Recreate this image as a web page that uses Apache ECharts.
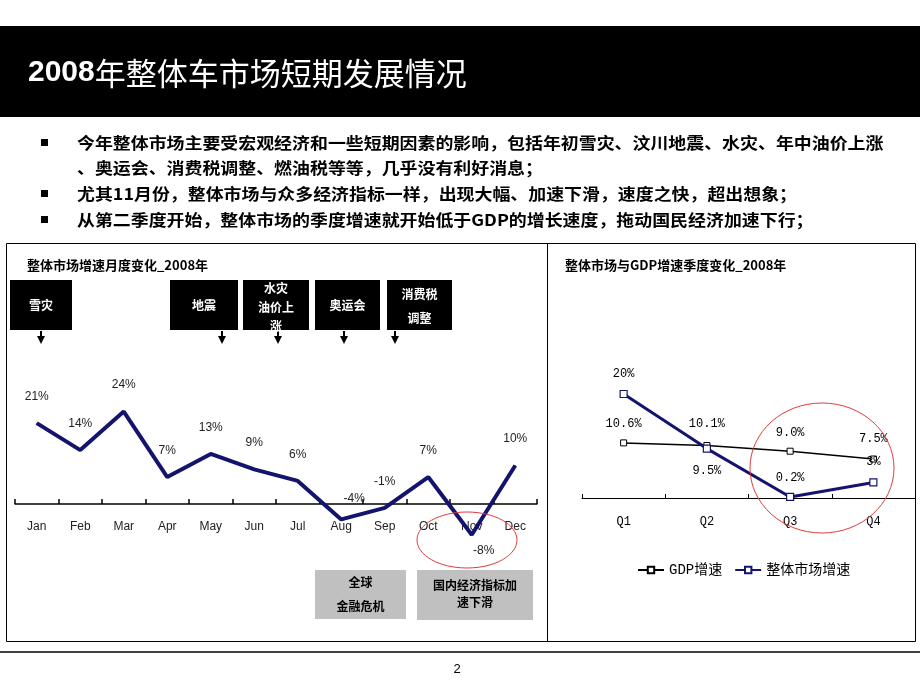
<!DOCTYPE html>
<html>
<head>
<meta charset="utf-8">
<script src="https://cdn.jsdelivr.net/npm/echarts@6/dist/echarts.min.js"></script>
<style>
html,body{margin:0;padding:0;background:#fff;}
#chart{width:920px;height:690px;}
</style>
</head>
<body>
<div id="chart"></div>
<script>
// ---- data ----
const pageTitle = '2008年整体车市场短期发展情况';
const bulletLines = [
  '今年整体市场主要受宏观经济和一些短期因素的影响，包括年初雪灾、汶川地震、水灾、年中油价上涨',
  '、奥运会、消费税调整、燃油税等等，几乎没有利好消息；',
  '尤其11月份，整体市场与众多经济指标一样，出现大幅、加速下滑，速度之快，超出想象；',
  '从第二季度开始，整体市场的季度增速就开始低于GDP的增长速度，拖动国民经济加速下行；'
];
const bulletMarks = [true, false, true, true];
const leftTitle = '整体市场增速月度变化_2008年';
const rightTitle = '整体市场与GDP增速季度变化_2008年';
const months = ['Jan','Feb','Mar','Apr','May','Jun','Jul','Aug','Sep','Oct','Nov','Dec'];
const marketMonthly = [21, 14, 24, 7, 13, 9, 6, -4, -1, 7, -8, 10];
const eventLabels = ['雪灾', '地震', '水灾\n油价上\n涨', '奥运会', '消费税\n调整'];
const crisisLabels = ['全球\n金融危机', '国内经济指标加\n速下滑'];
const quarters = ['Q1','Q2','Q3','Q4'];
const gdpName = 'GDP增速';
const marketName = '整体市场增速';
const gdpQuarterly = [10.6, 10.1, 9.0, 7.5];
const marketQuarterly = [20, 9.5, 0.2, 3];
const pageNumber = '2';

// ---- styles ----
const NAVY = '#14146e';
const CJK = '"Noto Sans CJK SC"';
const SANS = 'Arial, "Liberation Sans", "Noto Sans CJK SC"';
const MONO = '"Liberation Mono", "Noto Sans CJK SC"';

const chart = echarts.init(document.getElementById('chart'), null, {renderer: 'canvas'});

function txt(x, y, text, opt) {
  opt = opt || {};
  return {
    type: 'text', x: x, y: y, z: opt.z || 10,
    scaleX: opt.scaleX || 1,
    style: {
      text: text,
      fill: opt.fill || '#000',
      fontSize: opt.fontSize || 12,
      fontWeight: opt.fontWeight || 'normal',
      fontFamily: opt.fontFamily || CJK,
      align: opt.align || 'left',
      verticalAlign: opt.verticalAlign || 'middle',
      textAlign: opt.align || 'left',
      textVerticalAlign: opt.verticalAlign || 'middle',
      lineHeight: opt.lineHeight
    }
  };
}

const graphics = [];
// header bar
graphics.push({type: 'rect', shape: {x: 0, y: 26, width: 920, height: 91}, style: {fill: '#000'}, z: 1});
graphics.push({
  type: 'text', x: 28, y: 73, z: 10,
  style: {
    text: '{a|' + pageTitle.slice(0, 4) + '}{b|' + pageTitle.slice(4) + '}',
    verticalAlign: 'middle', textVerticalAlign: 'middle',
    rich: {
      a: {fontSize: 30, fontWeight: 'bold', fontFamily: SANS, fill: '#fff', color: '#fff'},
      b: {fontSize: 31, fontFamily: CJK, fill: '#fff', color: '#fff'}
    }
  }
});
// bullets
const bulletY = [143, 168, 194, 220];
bulletLines.forEach(function (t, i) {
  if (bulletMarks[i]) {
    graphics.push({type: 'rect', shape: {x: 41, y: bulletY[i] - 4, width: 7, height: 7}, style: {fill: '#000'}, z: 5});
  }
  graphics.push(txt(77, bulletY[i], t, {fontSize: 16, fontWeight: 'bold', scaleX: 1.12}));
});
// panels
graphics.push({type: 'rect', shape: {x: 6.5, y: 243.5, width: 909, height: 398}, style: {fill: 'none', stroke: '#000', lineWidth: 1}, z: 2});
graphics.push({type: 'line', shape: {x1: 547.5, y1: 243.5, x2: 547.5, y2: 641.5}, style: {stroke: '#000', lineWidth: 1}, z: 2});
graphics.push({type: 'line', shape: {x1: 0, y1: 652, x2: 920, y2: 652}, style: {stroke: '#000', lineWidth: 1.5}, z: 2});
graphics.push(txt(457, 669, pageNumber, {fontSize: 13, fontFamily: SANS, align: 'center'}));
// panel titles
graphics.push(txt(27, 265, leftTitle, {fontSize: 13, fontWeight: 'bold'}));
graphics.push(txt(565, 265, rightTitle, {fontSize: 13, fontWeight: 'bold'}));
// event boxes
const boxes = [[10, 62], [170, 68], [243, 66], [315, 65], [387, 65]];
const arrowsX = [41, 222, 278, 344, 395];
boxes.forEach(function (b, i) {
  graphics.push({type: 'rect', shape: {x: b[0], y: 280, width: b[1], height: 50}, style: {fill: '#000'}, z: 3});
  const lh = i === 2 ? 19 : 24;
  const cy = i === 2 ? 307 : (i === 4 ? 306 : 305);
  graphics.push(txt(b[0] + b[1] / 2, cy, eventLabels[i], {fontSize: 12, fontWeight: 'bold', fill: '#fff', align: 'center', lineHeight: lh, z: 11}));
  const ax = arrowsX[i];
  graphics.push({type: 'line', shape: {x1: ax, y1: 331, x2: ax, y2: 338}, style: {stroke: '#000', lineWidth: 2}, z: 3});
  graphics.push({type: 'polygon', shape: {points: [[ax - 4, 336], [ax + 4, 336], [ax, 344]]}, style: {fill: '#000'}, z: 3});
});
// grey crisis boxes
graphics.push({type: 'rect', shape: {x: 315, y: 570, width: 91, height: 49}, style: {fill: '#c0c0c0'}, z: 3});
graphics.push(txt(360.5, 594, crisisLabels[0], {fontSize: 12, fontWeight: 'bold', align: 'center', lineHeight: 24}));
graphics.push({type: 'rect', shape: {x: 417, y: 570, width: 116, height: 50}, style: {fill: '#c0c0c0'}, z: 3});
graphics.push(txt(475, 594, crisisLabels[1], {fontSize: 12, fontWeight: 'bold', align: 'center', lineHeight: 17}));
// red ellipses
graphics.push({type: 'ellipse', shape: {cx: 467, cy: 540, rx: 50, ry: 28}, style: {fill: 'none', stroke: '#e03c3c', lineWidth: 1}, z: 20});
graphics.push({type: 'ellipse', shape: {cx: 822, cy: 468, rx: 72, ry: 65}, style: {fill: 'none', stroke: '#e03c3c', lineWidth: 1}, z: 20});

// ---- series data with per-point label tweaks ----
const leftData = marketMonthly.map(function (v, i) {
  const d = {value: v};
  if (i === 7) d.label = {distance: 14, offset: [13, 0]};
  if (i === 10) d.label = {position: 'bottom', distance: 9, offset: [12, 0]};
  return d;
});
const gdpData = gdpQuarterly.map(function (v, i) {
  return {value: v, label: {distance: [10, 12, 9, 11][i]}};
});
const mktData = marketQuarterly.map(function (v, i) {
  if (i === 1) return {value: v, label: {position: 'bottom', distance: 12}};
  return {value: v, label: {distance: [10, 0, 9, 10][i]}};
});

const LEFT_MIN = -10, LEFT_MAX = 30, LEFT_H = 154;

const option = {
  backgroundColor: '#fff',
  animation: false,
  graphic: {elements: graphics},
  grid: [
    {left: 15, top: 388.5, width: 522, height: LEFT_H},
    {left: 582, top: 368, width: 333, height: 130}
  ],
  legend: {
    data: [gdpName, marketName],
    left: 632, top: 558,
    itemWidth: 26, itemHeight: 8, itemGap: 12,
    textStyle: {fontSize: 14, fontFamily: MONO, color: '#000'}
  },
  xAxis: [
    {
      type: 'category', gridIndex: 0, data: months, boundaryGap: true,
      offset: -(LEFT_H * (0 - LEFT_MIN) / (LEFT_MAX - LEFT_MIN)),
      axisLine: {onZero: false, lineStyle: {color: '#000', width: 1.5}},
      axisTick: {show: true, inside: true, length: 5, lineStyle: {color: '#000', width: 1.5}},
      axisLabel: {margin: 17, fontSize: 12, fontFamily: SANS, color: '#222'}
    },
    {
      type: 'category', gridIndex: 1, data: quarters, boundaryGap: true,
      axisLine: {onZero: true, lineStyle: {color: '#000', width: 1}},
      axisTick: {show: true, inside: true, length: 4, lineStyle: {color: '#000', width: 1}},
      axisLabel: {margin: 18, fontSize: 12, fontFamily: MONO, color: '#000'}
    }
  ],
  yAxis: [
    {type: 'value', gridIndex: 0, min: LEFT_MIN, max: LEFT_MAX, show: false, splitLine: {show: false}},
    {type: 'value', gridIndex: 1, min: 0, max: 25, show: false, splitLine: {show: false}}
  ],
  series: [
    {
      name: '整体市场增速(月度)', type: 'line', xAxisIndex: 0, yAxisIndex: 0,
      data: leftData, symbol: 'circle', symbolSize: 1, showSymbol: true,
      lineStyle: {color: NAVY, width: 4}, itemStyle: {color: NAVY},
      label: {show: true, position: 'top', distance: 20, fontSize: 12, fontFamily: SANS, color: '#222',
        formatter: function (p) { return p.value + '%'; }},
      z: 5
    },
    {
      name: gdpName, type: 'line', xAxisIndex: 1, yAxisIndex: 1,
      data: gdpData, symbol: 'rect', symbolSize: 6,
      lineStyle: {color: '#000', width: 1.5}, itemStyle: {color: '#fff', borderColor: '#000', borderWidth: 1},
      label: {show: true, position: 'top', fontSize: 12, fontFamily: MONO, color: '#000',
        formatter: function (p) { return p.value.toFixed(1) + '%'; }},
      z: 5
    },
    {
      name: marketName, type: 'line', xAxisIndex: 1, yAxisIndex: 1,
      data: mktData, symbol: 'rect', symbolSize: 7,
      lineStyle: {color: NAVY, width: 3}, itemStyle: {color: '#fff', borderColor: NAVY, borderWidth: 1.2},
      label: {show: true, position: 'top', fontSize: 12, fontFamily: MONO, color: '#000',
        formatter: function (p) { return p.value + '%'; }},
      z: 6
    }
  ]
};
chart.setOption(option);
</script>
</body>
</html>
